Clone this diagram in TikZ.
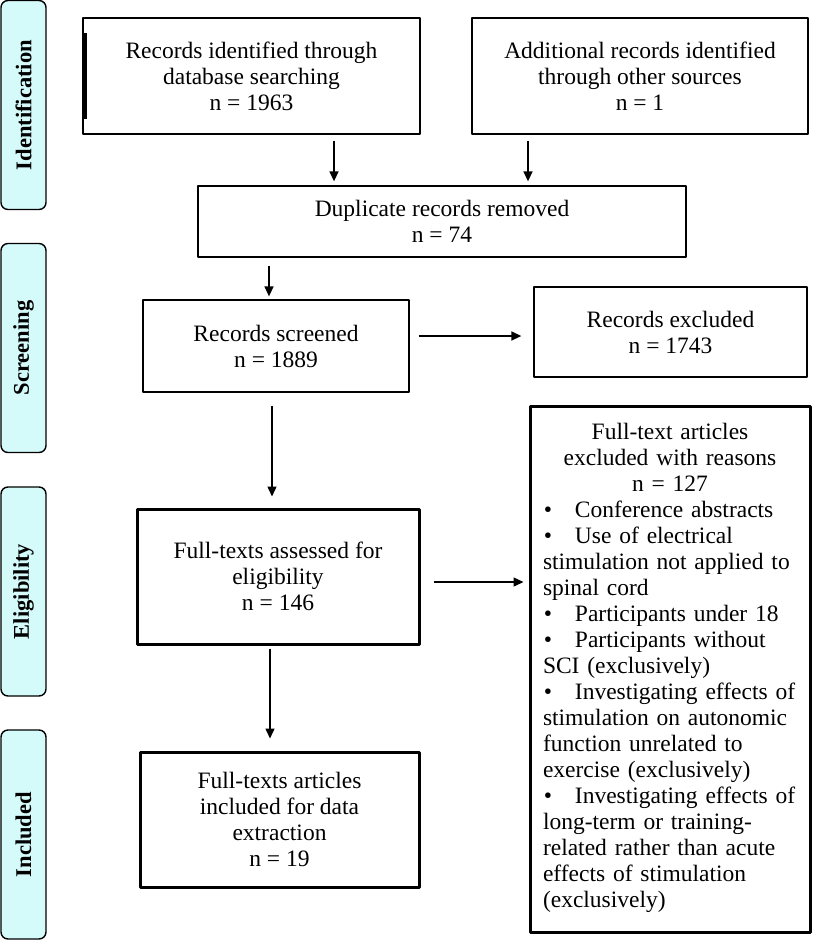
\documentclass[tikz,border=0pt]{standalone}
\usepackage{fontspec}
\setmainfont{Liberation Serif}
\usetikzlibrary{arrows.meta}
\definecolor{phasecyan}{RGB}{212,250,250}
\tikzset{
  box/.style={draw, line width=1.3pt, align=center, inner sep=0pt},
  thickbox/.style={box, line width=3pt},
  phase/.style={draw, line width=1.4pt, rounded corners=7pt, fill=phasecyan,
    minimum width=45pt, minimum height=209pt, inner sep=0pt},
  arr/.style={->, line width=1.4pt}
}
\newcommand{\bul}{\makebox[10pt][c]{\textbullet}\hspace{22pt}}
\begin{document}
\begin{tikzpicture}[x=1pt, y=-1pt, font=\fontsize{23.5}{26}\selectfont, line join=round, >={Triangle[length=10pt,width=9pt]}]
  \useasboundingbox (0,0) rectangle (812,940);
  % phases on the left
  \node[phase] (pid) at (23.5,105) {};
  \node[rotate=90, font=\fontsize{22.5}{26}\selectfont\bfseries] at (pid) {Identification};
  \node[phase] (pscr) at (23.5,348) {};
  \node[rotate=90, font=\fontsize{22.5}{26}\selectfont\bfseries] at (pscr) {Screening};
  \node[phase] (pelig) at (23.5,591.5) {};
  \node[rotate=90, font=\fontsize{22.5}{26}\selectfont\bfseries] at (pelig) {Eligibility};
  \node[phase] (pincl) at (23.5,834.5) {};
  \node[rotate=90, font=\fontsize{22.5}{26}\selectfont\bfseries] at (pincl) {Included};
  % boxes
  \node[box, minimum width=337pt, minimum height=116pt] (db) at (251.5,76)
    {Records identified through\\ database searching\\ n = 1963};
  \draw[line width=2.6pt] ([xshift=3pt]db.west) ++(0,-43) -- ++(0,86);
  \node[box, minimum width=336pt, minimum height=116pt] (other) at (640,76)
    {Additional records identified\\ through other sources\\ n = 1};
  \node[box, minimum width=488pt, minimum height=71pt] (dup) at (442,221.5)
    {Duplicate records removed\\ n = 74};
  \node[box, minimum width=266pt, minimum height=92pt] (scr) at (276,346)
    {Records screened\\ n = 1889};
  \node[box, minimum width=273pt, minimum height=90pt] (exc) at (670.5,332)
    {Records excluded\\ n = 1743};
  \node[thickbox, minimum width=282pt, minimum height=135pt] (elig) at (278,576.5)
    {Full-texts assessed for\\ eligibility\\ n = 146};
  \node[thickbox, minimum width=279pt, minimum height=135pt] (incl) at (279.5,819.5)
    {Full-texts articles\\ included for data\\ extraction\\ n = 19};
  \node[thickbox, minimum width=280pt, minimum height=526pt, text width=254pt, align=left] (ftx) at (670,669)
    {{\centering Full-text articles\\ excluded with reasons\\ n = 127\par}
     \begin{tabular}[t]{@{}l@{}}
     \bul Conference abstracts\\
     \bul Use of electrical\\ stimulation not applied to\\ spinal cord\\
     \bul Participants under 18\\
     \bul Participants without\\ SCI (exclusively)\\
     \bul Investigating effects of\\ stimulation on autonomic\\ function unrelated to\\ exercise (exclusively)\\
     \bul Investigating effects of\\ long-term or training-\\ related rather than acute\\ effects of stimulation\\ (exclusively)
     \end{tabular}};
  % arrows
  \draw[arr, shorten <=6pt, shorten >=4pt] ([xshift=82.5pt]db.south) -- ([xshift=82.5pt]db.south |- dup.north);
  \draw[arr, shorten <=6pt, shorten >=4pt] ([xshift=-112pt]other.south) -- ([xshift=-112pt]other.south |- dup.north);
  \draw[arr, shorten <=8pt, shorten >=3pt] ([xshift=-173pt]dup.south) -- ([xshift=-173pt]dup.south |- scr.north);
  \draw[arr, shorten <=9pt, shorten >=12pt] ([yshift=10pt]scr.east) -- ([yshift=10pt]scr.east -| exc.west);
  \draw[arr, shorten <=13pt, shorten >=11pt] ([xshift=-4pt]scr.south) -- ([xshift=-4pt]scr.south |- elig.north);
  \draw[arr, shorten <=13pt, shorten >=5pt] ([yshift=-5.5pt]elig.east) -- ([yshift=-5.5pt]elig.east -| ftx.west);
  \draw[arr, shorten <=3pt, shorten >=12pt] ([xshift=-8pt]elig.south) -- ([xshift=-8pt]elig.south |- incl.north);
\end{tikzpicture}
\end{document}
